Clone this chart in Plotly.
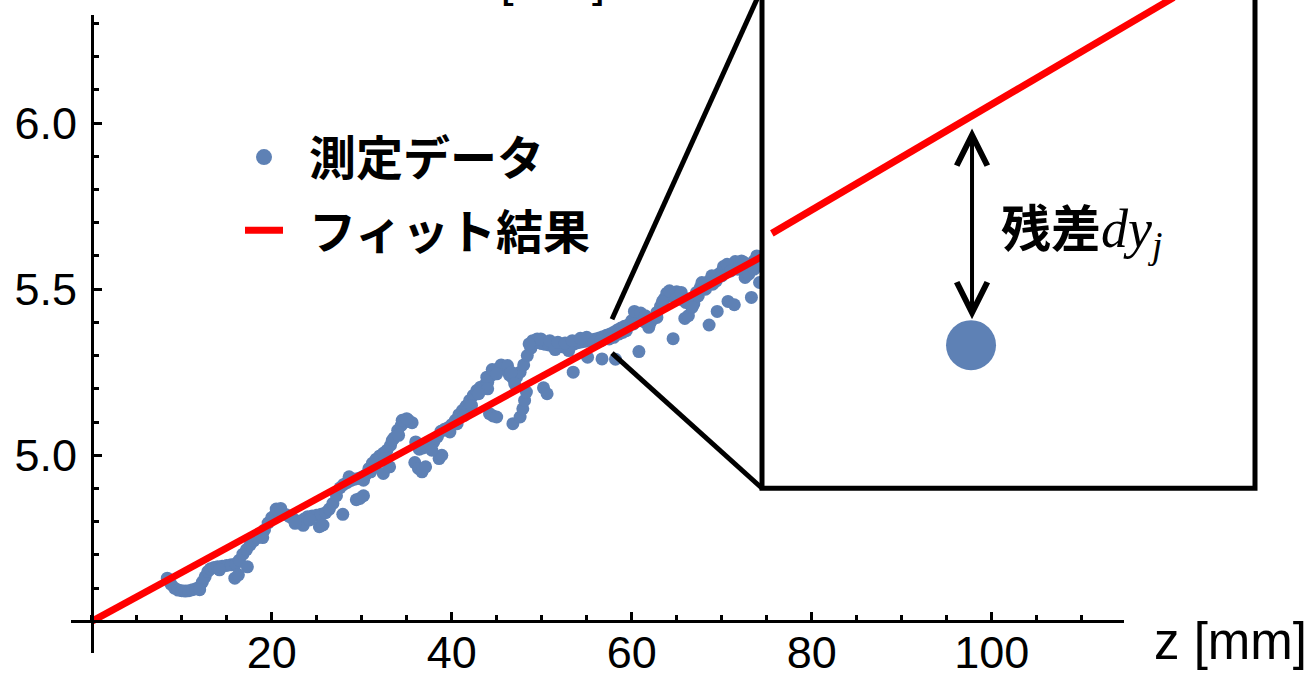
import plotly.graph_objects as go

W, H = 1312, 678

# ---------------- data ----------------
band_z = [8.4, 8.8, 9.2, 9.6, 10.0, 10.4, 10.8, 11.2, 11.6, 12.0, 12.3, 12.6, 12.9, 13.2, 13.6,
          14.0, 14.5, 15.0, 15.5, 16.0, 16.4, 16.8, 17.2, 17.6, 18.0, 18.4, 18.8, 19.2, 19.6,
          20.0, 20.4, 20.8, 21.2, 21.6, 22.0, 22.4, 22.8, 23.2, 23.6, 24.0, 24.5, 25.0, 25.5,
          26.0, 26.4, 26.8, 27.2, 27.6, 28.0, 28.4, 28.8, 29.2, 29.6, 30.0, 30.4, 30.8, 31.2,
          31.6, 32.0, 32.4, 32.8, 33.2, 33.6, 34.0, 34.4, 34.8, 35.2, 35.6, 36.0, 36.4, 36.8,
          37.2, 37.6, 38.0, 38.4, 38.8, 39.2, 39.6, 40.0, 40.4, 40.8, 41.2, 41.6, 42.0, 42.4,
          42.8, 43.2, 43.6, 44.0, 44.4, 44.8, 45.2, 45.6, 46.0, 46.4, 46.8, 47.2, 47.6, 48.0,
          48.4, 48.8, 49.2, 49.6, 50.0, 50.4, 50.8, 51.2, 51.6, 52.0, 52.4, 52.8, 53.2, 53.6,
          54.0, 54.4, 54.8, 55.2, 55.6, 56.0, 56.4, 56.8, 57.2, 57.6, 58.0, 58.4, 58.8, 59.2,
          59.6, 60.0, 60.4, 60.8, 61.2, 61.6, 62.0, 62.4, 62.8, 63.2, 63.6, 64.0, 64.4, 64.8,
          65.2, 65.6, 66.0, 66.4, 66.8, 67.2, 67.6, 68.0, 68.4, 68.8, 69.2, 69.6, 70.0, 70.4,
          70.8, 71.2, 71.6, 72.0, 72.4, 72.8, 73.2, 73.6, 74.0, 74.3]
band_y = [4.630, 4.612, 4.600, 4.594, 4.592, 4.591, 4.592, 4.595, 4.598, 4.604, 4.618, 4.634, 4.650, 4.658, 4.662,
          4.664, 4.666, 4.668, 4.670, 4.673, 4.684, 4.702, 4.716, 4.730, 4.742, 4.752, 4.760, 4.775, 4.796,
          4.812, 4.822, 4.828, 4.826, 4.821, 4.815, 4.808, 4.802, 4.800, 4.808, 4.815, 4.817, 4.819, 4.822,
          4.827, 4.838, 4.855, 4.878, 4.902, 4.912, 4.918, 4.924, 4.928, 4.930, 4.934, 4.940, 4.960, 4.976,
          4.988, 4.998, 5.006, 5.015, 5.030, 5.052, 5.075, 5.090, 5.100, 5.105, 5.098, 5.040, 5.018, 5.022,
          5.026, 5.032, 5.040, 5.055, 5.072, 5.078, 5.083, 5.092, 5.105, 5.122, 5.135, 5.148, 5.165, 5.180,
          5.195, 5.205, 5.210, 5.220, 5.240, 5.256, 5.261, 5.263, 5.258, 5.242, 5.232, 5.235, 5.250, 5.272,
          5.300, 5.322, 5.338, 5.340, 5.336, 5.334, 5.332, 5.330, 5.328, 5.327, 5.326, 5.327, 5.330, 5.335,
          5.339, 5.341, 5.343, 5.346, 5.348, 5.350, 5.353, 5.357, 5.361, 5.365, 5.370, 5.377, 5.383, 5.388,
          5.392, 5.405, 5.420, 5.416, 5.404, 5.398, 5.396, 5.412, 5.430, 5.448, 5.470, 5.478, 5.482, 5.484,
          5.478, 5.468, 5.460, 5.458, 5.472, 5.490, 5.504, 5.514, 5.521, 5.528, 5.536, 5.544, 5.553, 5.561,
          5.565, 5.569, 5.574, 5.574, 5.568, 5.562, 5.572, 5.585, 5.592, 5.596]

spread_z = [15.9, 16.3, 17.3, 23.5, 25.3, 25.7, 27.9, 29.4, 29.8, 30.2, 32.4, 33.1, 35.9, 36.3, 36.7,
            37.1, 38.6, 38.9, 44.2, 44.6, 45.0, 46.8, 47.6, 47.9, 48.1, 48.3, 50.2, 50.6, 53.5, 55.1,
            56.7, 58.2, 60.8, 64.6, 65.9, 66.3, 68.6, 69.5, 70.7, 71.4, 72.6, 73.3, 74.2,
            20.5, 21.0, 34.5, 35.0, 43.9, 44.5, 45.5, 46.2, 49.0, 49.5, 55.0, 60.3, 63.9, 65.0, 67.8,
            70.2, 71.5, 72.2, 73.9,
            12.0, 14.2, 19.0, 22.6, 24.2, 31.0, 37.8, 39.8, 41.8, 51.5, 53.0, 57.5, 59.0, 61.9, 66.9, 69.0,
            58.0, 58.6, 59.4, 60.2, 61.0, 61.5, 62.2, 62.8, 63.4, 64.2, 64.9, 65.5, 66.2, 66.7, 67.4,
            68.2, 68.9, 69.4, 70.0, 70.6, 71.0, 71.8, 72.5, 73.0, 73.6, 74.1,
            44.0, 45.0, 46.6, 47.0, 48.6, 49.9, 50.9, 51.8, 52.6, 53.4, 54.3, 55.8, 56.6,
            40.6, 41.4, 42.2, 43.0, 28.6, 30.2, 31.4, 32.6, 33.4, 34.1]
spread_y = [4.630, 4.640, 4.664, 4.789, 4.785, 4.790, 4.822, 4.866, 4.870, 4.878, 4.945, 4.965, 4.978, 4.960, 4.950,
            4.965, 4.990, 5.000, 5.125, 5.118, 5.115, 5.095, 5.115, 5.140, 5.165, 5.190, 5.203, 5.185, 5.250, 5.295,
            5.290, 5.289, 5.312, 5.351, 5.412, 5.420, 5.392, 5.433, 5.463, 5.453, 5.535, 5.475, 5.520,
            4.838, 4.840, 5.105, 5.110, 5.235, 5.258, 5.272, 5.270, 5.345, 5.350, 5.355, 5.433, 5.488, 5.492, 5.520,
            5.568, 5.583, 5.585, 5.600,
            4.595, 4.655, 4.752, 4.795, 4.805, 4.950, 5.015, 5.070, 5.135, 5.318, 5.315, 5.350, 5.370, 5.385, 5.455, 5.515,
            5.355, 5.365, 5.375, 5.395, 5.428, 5.420, 5.405, 5.415, 5.462, 5.495, 5.470, 5.490, 5.470, 5.445, 5.480,
            5.500, 5.540, 5.525, 5.540, 5.575, 5.555, 5.560, 5.580, 5.545, 5.560, 5.575,
            5.200, 5.245, 5.250, 5.215, 5.335, 5.350, 5.345, 5.340, 5.338, 5.345, 5.352, 5.340, 5.345,
            5.095, 5.120, 5.150, 5.185, 4.935, 4.925, 4.965, 4.990, 5.045, 5.060]

meas_z = band_z + spread_z
meas_y = band_y + spread_y

fit_z = [0.0, 74.4]
fit_y = [4.500, 5.597]

x_ticks = [20, 40, 60, 80, 100]
y_ticks = [5.0, 5.5, 6.0]
y_ticktext = ["5.0", "5.5", "6.0"]

# inset (magnified sketch) in its own 0..1 coordinates
inset_line_u = [0.020, 0.835]
inset_line_v = [0.522, 1.005]
inset_point_u = [0.424]
inset_point_v = [0.293]

BLUE = "#5E81B5"
RED = "#FF0000"
TICKFONT = dict(family="Liberation Sans, Arial", size=45, color="black")
CJK = "Noto Sans CJK JP"
KY = 1.017  # vertical layout correction


def px_x(p):
    return p / W


def px_y(p):
    return (H - p * KY) / H


fig = go.Figure()

# legend-only entry for the measured data (bigger legend dot)
fig.add_trace(go.Scatter(x=[None], y=[None], mode="markers",
                         name="\u00a0\u00a0<b>測定データ</b>",
                         marker=dict(color=BLUE, size=20), legendgroup="a"))
fig.add_trace(go.Scatter(x=meas_z, y=meas_y, mode="markers", showlegend=False,
                         marker=dict(color=BLUE, size=13, line=dict(width=0)), legendgroup="a"))
fig.add_trace(go.Scatter(x=fit_z, y=fit_y, mode="lines",
                         name="\u00a0\u00a0<b>フィット結果</b>",
                         line=dict(color=RED, width=7), legendgroup="b"))

# inset traces
fig.add_trace(go.Scatter(x=inset_line_u, y=inset_line_v, xaxis="x2", yaxis="y2", mode="lines",
                         line=dict(color=RED, width=7), showlegend=False))
fig.add_trace(go.Scatter(x=inset_point_u, y=inset_point_v, xaxis="x2", yaxis="y2", mode="markers",
                         marker=dict(color=BLUE, size=50), showlegend=False))

axis_common = dict(showline=True, linecolor="black", linewidth=3, ticks="inside", ticklen=8,
                   tickwidth=2.5, tickcolor="black", showgrid=False, zeroline=False,
                   tickfont=TICKFONT, anchor="free")

fig.update_layout(
    width=W, height=H,
    margin=dict(l=0, r=0, t=0, b=0),
    paper_bgcolor="white", plot_bgcolor="white",
    xaxis=dict(domain=[px_x(71), px_x(1124)], range=[-2.3, 114.7], position=px_y(621),
               tickmode="array", tickvals=x_ticks, ticklabelstandoff=-9,
               minor=dict(ticks="inside", ticklen=5, tickwidth=2.5, tickcolor="black",
                          tickmode="linear", tick0=0, dtick=5, showgrid=False),
               **axis_common),
    yaxis=dict(domain=[px_y(653), px_y(15)], range=[4.5 - 32 / 332, 6.0 + 108 / 332],
               position=px_x(92), tickmode="array", tickvals=y_ticks, ticktext=y_ticktext,
               ticklabelstandoff=5,
               minor=dict(ticks="inside", ticklen=5, tickwidth=2.5, tickcolor="black",
                          tickmode="linear", tick0=4.5, dtick=0.1, showgrid=False),
               **axis_common),
    xaxis2=dict(domain=[px_x(762), px_x(1255)], range=[0, 1], visible=False, anchor="y2"),
    yaxis2=dict(domain=[px_y(488), 1.0], range=[0, 1], visible=False, anchor="x2"),
    showlegend=True,
    legend=dict(x=px_x(240), y=px_y(120), xanchor="left", yanchor="top",
                font=dict(family=CJK, size=47, color="black"), bgcolor="rgba(0,0,0,0)",
                traceorder="grouped", tracegroupgap=9, itemwidth=38),
)

# inset frame and connector lines (decoration)
fig.add_shape(type="rect", xref="paper", yref="paper",
              x0=px_x(762), x1=px_x(1255), y0=px_y(488), y1=px_y(-12),
              line=dict(color="black", width=5), fillcolor="rgba(0,0,0,0)")
fig.add_shape(type="line", xref="paper", yref="paper",
              x0=px_x(612), y0=px_y(319), x1=px_x(762), y1=px_y(-12),
              line=dict(color="black", width=5))
fig.add_shape(type="line", xref="paper", yref="paper",
              x0=px_x(612), y0=px_y(353), x1=px_x(762), y1=px_y(488),
              line=dict(color="black", width=5))

# residual arrow in the inset
fig.add_annotation(xref="x2", yref="y2", axref="x2", ayref="y2",
                   x=0.426, y=0.346, ax=0.426, ay=0.740, text="", showarrow=True,
                   arrowside="end+start", arrowhead=5, startarrowhead=5,
                   arrowsize=1.5, startarrowsize=1.5, arrowwidth=4, arrowcolor="black",
                   standoff=0, startstandoff=0)
fig.add_annotation(xref="x2", yref="y2", x=0.480, y=0.535, xanchor="left", yanchor="middle",
                   showarrow=False,
                   text="<b>残差</b><span style=\"font-family:'Liberation Serif';font-size:54px\"><i>dy</i><sub><i>j</i></sub></span>",
                   font=dict(family=CJK, size=50, color="black"))

# axis labels
fig.add_annotation(xref="paper", yref="paper", x=px_x(1230), y=px_y(641), xanchor="center",
                   yanchor="middle", showarrow=False, text="z [mm]",
                   font=dict(family="Liberation Sans, Arial", size=51, color="black"))
fig.add_annotation(xref="paper", yref="paper", x=px_x(534), y=(H - 8) / H, xanchor="center",
                   yanchor="bottom", showarrow=False, text="x [mm]",
                   font=dict(family="Liberation Sans, Arial", size=47, color="black"))

fig.write_html("out.html")
